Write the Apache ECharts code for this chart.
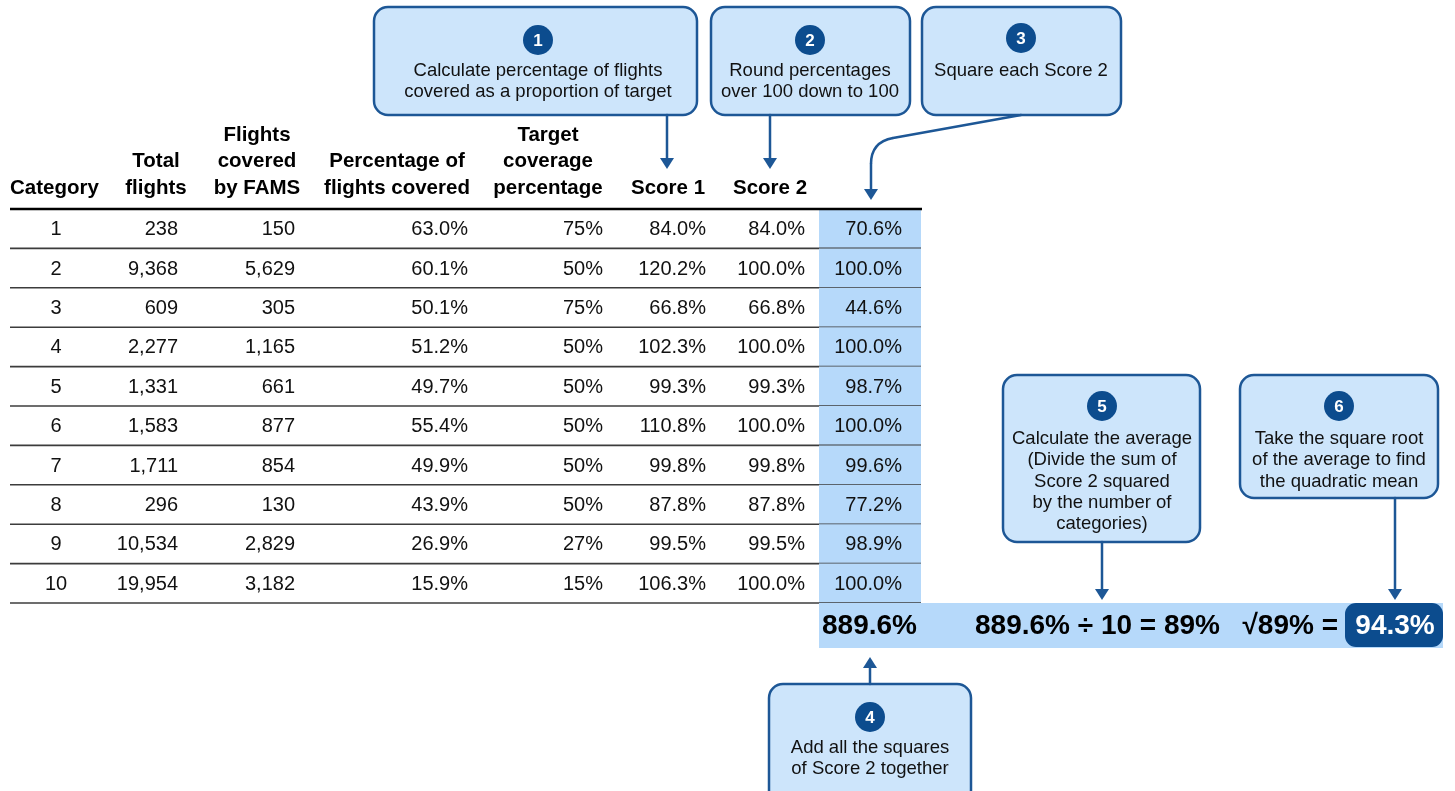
<!DOCTYPE html>
<html>
<head>
<meta charset="utf-8">
<script src="https://cdn.jsdelivr.net/npm/echarts@6/dist/echarts.min.js"></script>
<style>
html,body{margin:0;padding:0;background:#fff;}
#chart{width:1455px;height:791px;}
</style>
</head>
<body>
<div id="chart"></div>
<script>
// ---------- DATA ----------
const categories = ['1','2','3','4','5','6','7','8','9','10'];
const totalFlights = [238, 9368, 609, 2277, 1331, 1583, 1711, 296, 10534, 19954];
const famsFlights = [150, 5629, 305, 1165, 661, 877, 854, 130, 2829, 3182];
const pctCovered = [63.0, 60.1, 50.1, 51.2, 49.7, 55.4, 49.9, 43.9, 26.9, 15.9];
const targetPct = [75, 50, 75, 50, 50, 50, 50, 50, 27, 15];
const score1 = [84.0, 120.2, 66.8, 102.3, 99.3, 110.8, 99.8, 87.8, 99.5, 106.3];
const score2 = [84.0, 100.0, 66.8, 100.0, 99.3, 100.0, 99.8, 87.8, 99.5, 100.0];
const score2Squared = [70.6, 100.0, 44.6, 100.0, 98.7, 100.0, 99.6, 77.2, 98.9, 100.0];
const sumSquares = 889.6;
const nCategories = 10;
const averageSq = 89;
const quadraticMean = 94.3;
const headers = [
  ['Category'],
  ['Total', 'flights'],
  ['Flights', 'covered', 'by FAMS'],
  ['Percentage of', 'flights covered'],
  ['Target', 'coverage', 'percentage'],
  ['Score 1'],
  ['Score 2']
];
const steps = [
  ['Calculate percentage of flights', 'covered as a proportion of target'],
  ['Round percentages', 'over 100 down to 100'],
  ['Square each Score 2'],
  ['Add all the squares', 'of Score 2 together'],
  ['Calculate the average', '(Divide the sum of', 'Score 2 squared', 'by the number of', 'categories)'],
  ['Take the square root', 'of the average to find', 'the quadratic mean']
];

// ---------- LAYOUT / STYLE ----------
const FONT = '"Liberation Sans", Arial, Helvetica, sans-serif';
const LIGHT = '#b6d9fa';
const BOXFILL = '#cde5fb';
const DARK = '#0c4c8e';
const STROKE = '#1d5796';
const TBL = {left: 10, right: 921, top: 209, bottom: 603, hiLeft: 819};
const dataCols = [[56,'center'],[178,'right'],[295,'right'],[468,'right'],[603,'right'],[706,'right'],[805,'right'],[902,'right']];
const headerCols = [[10,'left'],[156,'center'],[257,'center'],[397,'center'],[548,'center'],[668,'center'],[770,'center']];

const fmtInt = v => v.toLocaleString('en-US');
const fmtPct1 = v => v.toFixed(1) + '%';
const fmtPct0 = v => v + '%';

function rowTexts(i) {
  return [categories[i], fmtInt(totalFlights[i]), fmtInt(famsFlights[i]), fmtPct1(pctCovered[i]),
          fmtPct0(targetPct[i]), fmtPct1(score1[i]), fmtPct1(score2[i]), fmtPct1(score2Squared[i])];
}

// ---------- GRAPHIC ANNOTATIONS ----------
const g = [];
function txt(x, y, text, size, weight, fill, align) {
  g.push({type:'text', z:50, style:{x:x, y:y, text:text, fill:fill || '#000', font:(weight||'normal') + ' ' + size + 'px ' + FONT,
    align: align || 'center', verticalAlign:'middle', textAlign: align || 'center', textVerticalAlign:'middle'}});
}
function box(x, y, w, h) {
  g.push({type:'rect', z:20, shape:{x:x, y:y, width:w, height:h, r:14}, style:{fill:BOXFILL, stroke:STROKE, lineWidth:2.5}});
}
function badge(cx, cy, n) {
  g.push({type:'circle', z:30, shape:{cx:cx, cy:cy, r:15}, style:{fill:DARK}});
  txt(cx, cy + 1, String(n), 17, 'bold', '#fff');
}
function lines(cx, y0, arr) {
  arr.forEach((t, k) => txt(cx, y0 + k * 21.3, t, 18.5, 'normal', '#111'));
}
function seg(x1, y1, x2, y2) {
  g.push({type:'line', z:25, shape:{x1:x1, y1:y1, x2:x2, y2:y2}, style:{stroke:STROKE, lineWidth:2.5, lineCap:'round'}});
}
function headDown(x, tip) {
  g.push({type:'polygon', z:25, shape:{points:[[x-7, tip-11],[x+7, tip-11],[x, tip]]}, style:{fill:STROKE}});
}
function arrowDown(x, y0, tip) { seg(x, y0, x, tip - 9); headDown(x, tip); }
function arrowUp(x, y0, tip) {
  seg(x, y0, x, tip + 9);
  g.push({type:'polygon', z:25, shape:{points:[[x-7, tip+11],[x+7, tip+11],[x, tip]]}, style:{fill:STROKE}});
}

// header labels (bottom-aligned)
headers.forEach((h, c) => {
  const [x, al] = headerCols[c];
  const n = h.length;
  h.forEach((t, k) => txt(x, 188 - (n - 1 - k) * 26.5, t, 20.5, 'bold', '#000', al));
});
g.push({type:'line', z:60, shape:{x1:TBL.left, y1:TBL.top, x2:TBL.right + 1, y2:TBL.top}, style:{stroke:'#000', lineWidth:2.5}});

// bottom result band
g.push({type:'rect', z:5, shape:{x:TBL.hiLeft, y:TBL.bottom, width:1443 - TBL.hiLeft, height:45}, style:{fill:LIGHT}});
g.push({type:'rect', z:10, shape:{x:1345, y:603, width:98, height:44, r:11}, style:{fill:DARK}});
txt(822, 626, fmtPct1(sumSquares), 28, 'bold', '#000', 'left');
txt(975, 626, fmtPct1(sumSquares) + ' \u00f7 ' + nCategories + ' = ' + averageSq + '%', 28, 'bold', '#000', 'left');
txt(1338, 626, '\u221a' + averageSq + '% =', 28, 'bold', '#000', 'right');
txt(1395, 626, fmtPct1(quadraticMean), 28, 'bold', '#fff', 'center');

// callouts
box(374, 7, 323, 108); badge(538, 40, 1); lines(538, 71, steps[0]);
arrowDown(667, 115, 169);
box(711, 7, 199, 108); badge(810, 40, 2); lines(810, 71, steps[1]);
arrowDown(770, 115, 169);
box(922, 7, 199, 108); badge(1021, 38, 3); lines(1021, 71, steps[2]);
seg(1021, 115, 893, 138);
g.push({type:'bezierCurve', z:25, shape:{x1:893, y1:138, cpx1:871, cpy1:142, x2:871, y2:164}, style:{stroke:STROKE, lineWidth:2.5, fill:null}});
seg(871, 164, 871, 190);
headDown(871, 200);
box(769, 684, 202, 120); badge(870, 717, 4); lines(870, 748, steps[3]);
arrowUp(870, 684, 657);
box(1003, 375, 197, 167); badge(1102, 406, 5); lines(1102, 439, steps[4]);
arrowDown(1102, 542, 600);
box(1240, 375, 198, 123); badge(1339, 406, 6); lines(1339, 439, steps[5]);
arrowDown(1395, 498, 600);

// ---------- CHART ----------
const chart = echarts.init(document.getElementById('chart'), null, {renderer:'canvas'});
chart.setOption({
  animation: false,
  backgroundColor: '#fff',
  grid: {left: TBL.left, top: TBL.top, width: TBL.right - TBL.left, height: TBL.bottom - TBL.top},
  xAxis: {type:'value', min: TBL.left, max: TBL.right, show:false},
  yAxis: {type:'category', data: categories, inverse:true, show:false},
  graphic: {elements: g},
  series: [{
    type: 'custom',
    coordinateSystem: 'cartesian2d',
    clip: false,
    z: 3,
    data: categories.map((c, i) => [TBL.left, i]),
    renderItem: function (params, api) {
      const i = api.value(1);
      const yc = api.coord([TBL.left, i])[1];
      const bh = api.size([0, 1])[1];
      const y0 = yc - bh / 2, y1 = yc + bh / 2;
      const X = v => api.coord([v, i])[0];
      const children = [];
      children.push({type:'rect', shape:{x:X(TBL.hiLeft), y:y0, width:X(TBL.right) - X(TBL.hiLeft), height:bh}, style:{fill:LIGHT}});
      children.push({type:'line', shape:{x1:X(TBL.left), y1:y1, x2:X(TBL.right), y2:y1}, style:{stroke:'#3c3c3c', lineWidth:1.6}});
      rowTexts(i).forEach((t, c) => {
        const [x, al] = dataCols[c];
        children.push({type:'text', style:{x:X(x), y:yc + 1, text:t, fill:'#111', font:'20px ' + FONT,
          align:al, verticalAlign:'middle', textAlign:al, textVerticalAlign:'middle'}});
      });
      return {type:'group', children: children};
    }
  }]
});
</script>
</body>
</html>
